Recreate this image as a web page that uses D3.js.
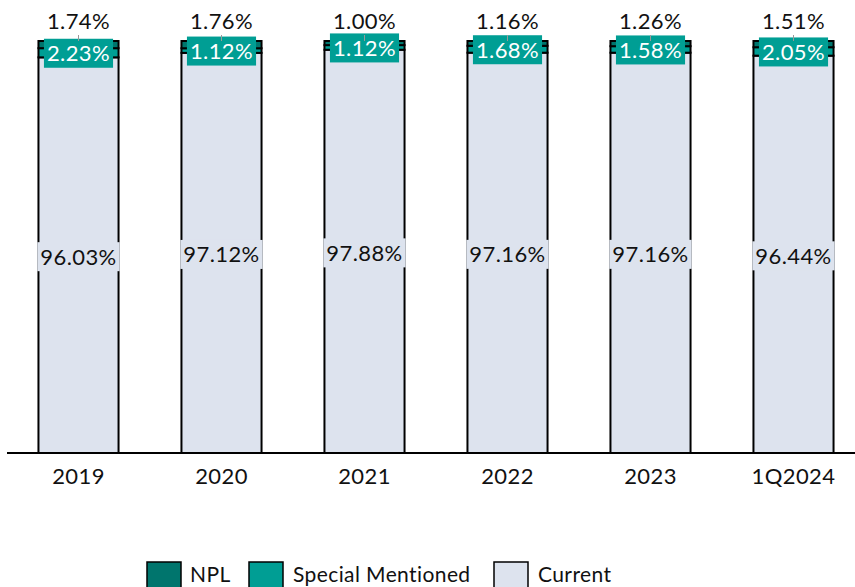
<!DOCTYPE html>
<html>
<head>
<meta charset="utf-8">
<script src="https://cdn.jsdelivr.net/npm/d3@7"></script>
<style>
  html, body { margin: 0; padding: 0; background: #ffffff; }
  svg { display: block; }
  text { font-family: "Lato", "Open Sans", sans-serif; letter-spacing: 0.4px; }
</style>
</head>
<body>
<svg id="chart" width="855" height="587"></svg>
<script>
// Loan quality mix by period (share of total loans, %)
const categories = ["2019", "2020", "2021", "2022", "2023", "1Q2024"];
const current = [96.03, 97.12, 97.88, 97.16, 97.16, 96.44];
const specialMentioned = [2.23, 1.12, 1.12, 1.68, 1.58, 2.05];
const npl = [1.74, 1.76, 1.00, 1.16, 1.26, 1.51];

const seriesNames = ["Current", "Special Mentioned", "NPL"];
const colors = { "NPL": "#00756d", "Special Mentioned": "#009e94", "Current": "#dde3ee" };
const FS = 22;

const rows = categories.map((c, i) => ({
  cat: c,
  "Current": current[i],
  "Special Mentioned": specialMentioned[i],
  "NPL": npl[i]
}));

const svg = d3.select("#chart");
const x = d3.scaleBand().domain(categories).range([7, 865]).paddingInner(0.44).paddingOuter(0.22);
const y = d3.scaleLinear().domain([0, 100]).range([453, 41]);

const stacked = d3.stack().keys(seriesNames)(rows);

// Bars
const layers = svg.append("g").selectAll("g")
  .data(stacked).join("g")
  .attr("fill", d => colors[d.key]);

layers.selectAll("rect")
  .data(d => d)
  .join("rect")
  .attr("x", d => x(d.data.cat))
  .attr("width", x.bandwidth())
  .attr("y", d => y(d[1]))
  .attr("height", d => y(d[0]) - y(d[1]))
  .attr("stroke", "#000")
  .attr("stroke-width", 2);

// Category axis
const xAxis = svg.append("g")
  .attr("transform", `translate(0,${y(0)})`)
  .call(d3.axisBottom(x).tickSize(0).tickPadding(15));
xAxis.select(".domain").remove();
xAxis.append("line")
  .attr("x1", 7).attr("x2", 855).attr("y1", 0).attr("y2", 0)
  .attr("stroke", "#000").attr("stroke-width", 2);
xAxis.selectAll(".tick text")
  .attr("font-size", FS)
  .attr("fill", "#111")
  .style("font-family", "Lato, sans-serif");

const fmt = v => v.toFixed(2) + "%";

// Labels with filled background boxes
function boxedLabel(g, cx, cy, txt, bg, fg) {
  const grp = g.append("g");
  const rect = grp.append("rect").attr("fill", bg);
  const t = grp.append("text")
    .attr("x", cx).attr("y", cy)
    .attr("text-anchor", "middle")
    .attr("dominant-baseline", "central")
    .attr("font-size", FS)
    .attr("fill", fg)
    .text(txt);
  const bb = t.node().getBBox();
  rect.attr("x", bb.x - 3).attr("y", cy - 14)
    .attr("width", bb.width + 6).attr("height", 29);
}

const labels = svg.append("g");
rows.forEach((r, i) => {
  const cx = x(r.cat) + x.bandwidth() / 2;
  // Current: centred in its segment
  boxedLabel(labels, cx, (y(0) + y(r["Current"])) / 2 + 1, fmt(r["Current"]), colors["Current"], "#111");
  // Special Mentioned: centred in its segment
  const smLo = r["Current"], smHi = r["Current"] + r["Special Mentioned"];
  boxedLabel(labels, cx, (y(smLo) + y(smHi)) / 2, fmt(r["Special Mentioned"]), colors["Special Mentioned"], "#fff");
  // NPL: above the bar with a short leader
  const top = y(100);
  labels.append("line")
    .attr("x1", cx).attr("x2", cx)
    .attr("y1", top - 6).attr("y2", top)
    .attr("stroke", "#999").attr("stroke-width", 1);
  labels.append("text")
    .attr("x", cx).attr("y", top - 21)
    .attr("text-anchor", "middle")
    .attr("dominant-baseline", "central")
    .attr("font-size", FS)
    .attr("fill", "#111")
    .text(fmt(r["NPL"]));
});

// Legend
const legendItems = [
  { key: "NPL", sx: 147, tx: 190 },
  { key: "Special Mentioned", sx: 249, tx: 293 },
  { key: "Current", sx: 494, tx: 538 }
];
const legend = svg.append("g");
legendItems.forEach(it => {
  legend.append("rect")
    .attr("x", it.sx).attr("y", 562)
    .attr("width", 34).attr("height", 34)
    .attr("fill", colors[it.key])
    .attr("stroke", "#000").attr("stroke-width", 1.5);
  legend.append("text")
    .attr("x", it.tx).attr("y", 582)
    .attr("font-size", 21)
    .attr("fill", "#111")
    .text(it.key);
});
</script>
</body>
</html>
